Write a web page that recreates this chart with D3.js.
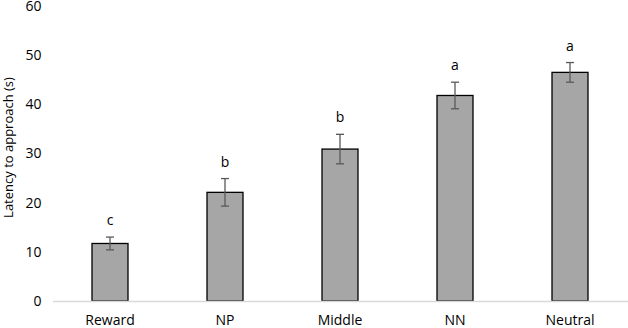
<!DOCTYPE html>
<html lang="en">
<head>
  <meta charset="UTF-8">
  <title>Latency to approach</title>
  <script src='https://d3js.org/d3.v7.min.js'></script>
  <style>
    body { margin: 0; background: #fff; }
    text { font-family: 'Open Sans', sans-serif; fill: #000; }
  </style>
</head>
<body>
</body>
<script>
  const width = 628, height = 328;

  // data
  const categories = ['Reward', 'NP', 'Middle', 'NN', 'Neutral'];
  const means = [11.7, 22.1, 30.9, 41.8, 46.5];
  const errors = [1.3, 2.8, 3.0, 2.7, 2.0];
  const letters = ['c', 'b', 'b', 'a', 'a'];
  const yTicks = [0, 10, 20, 30, 40, 50, 60];

  const margin = {top: 6, right: 0.5, bottom: 27, left: 52.5};

  const svg = d3.select('body').append('svg').attr('width', width).attr('height', height);

  const x = d3.scaleBand()
    .domain(categories)
    .range([margin.left, width - margin.right])
    .paddingInner(0.687)
    .paddingOuter(0.3435);

  const y = d3.scaleLinear()
    .domain([0, 60])
    .range([height - margin.bottom, margin.top]);

  // y axis labels (no axis line)
  const yAxis = svg.append('g')
    .attr('transform', `translate(${margin.left},0)`)
    .call(d3.axisLeft(y).tickValues(yTicks).tickSize(0).tickPadding(11));
  yAxis.select('.domain').remove();
  yAxis.selectAll('text').style('font-size', '14px').style('font-family', "'Open Sans', sans-serif").attr('fill', '#000');

  // bars
  svg.selectAll('rect.bar')
    .data(categories)
    .join('rect')
    .attr('class', 'bar')
    .attr('x', d => x(d))
    .attr('width', x.bandwidth())
    .attr('y', (d, i) => y(means[i]))
    .attr('height', (d, i) => y(0) - y(means[i]))
    .attr('fill', '#a6a6a6')
    .attr('stroke', '#000')
    .attr('stroke-width', 1.3);

  // x axis line
  const xAxis = svg.append('g')
    .attr('transform', `translate(0,${y(0)})`)
    .call(d3.axisBottom(x).tickSize(0).tickPadding(14));
  xAxis.select('.domain').attr('stroke', '#d9d9d9').attr('stroke-width', 1.3);
  xAxis.selectAll('text').style('font-size', '14px').style('font-family', "'Open Sans', sans-serif").attr('fill', '#000');

  // error bars
  const eb = svg.selectAll('g.err')
    .data(categories)
    .join('g')
    .attr('class', 'err')
    .attr('stroke', '#595959')
    .attr('stroke-width', 1.3);
  const cx = d => x(d) + x.bandwidth() / 2;
  eb.append('line')
    .attr('x1', cx).attr('x2', cx)
    .attr('y1', (d, i) => y(means[i] + errors[i]))
    .attr('y2', (d, i) => y(means[i] - errors[i]));
  eb.append('line')
    .attr('x1', d => cx(d) - 4).attr('x2', d => cx(d) + 4)
    .attr('y1', (d, i) => y(means[i] + errors[i]))
    .attr('y2', (d, i) => y(means[i] + errors[i]));
  eb.append('line')
    .attr('x1', d => cx(d) - 4).attr('x2', d => cx(d) + 4)
    .attr('y1', (d, i) => y(means[i] - errors[i]))
    .attr('y2', (d, i) => y(means[i] - errors[i]));

  // significance letters
  svg.selectAll('text.sig')
    .data(categories)
    .join('text')
    .attr('class', 'sig')
    .attr('x', cx)
    .attr('y', (d, i) => y(means[i] + errors[i]) - 12)
    .attr('text-anchor', 'middle')
    .style('font-size', '14px')
    .text((d, i) => letters[i]);

  // y axis title
  svg.append('text')
    .attr('transform', `translate(13,${(y(0) + y(60)) / 2 - 6}) rotate(-90)`)
    .attr('text-anchor', 'middle')
    .style('font-size', '13px')
    .text('Latency to approach (s)');
</script>
</html>
